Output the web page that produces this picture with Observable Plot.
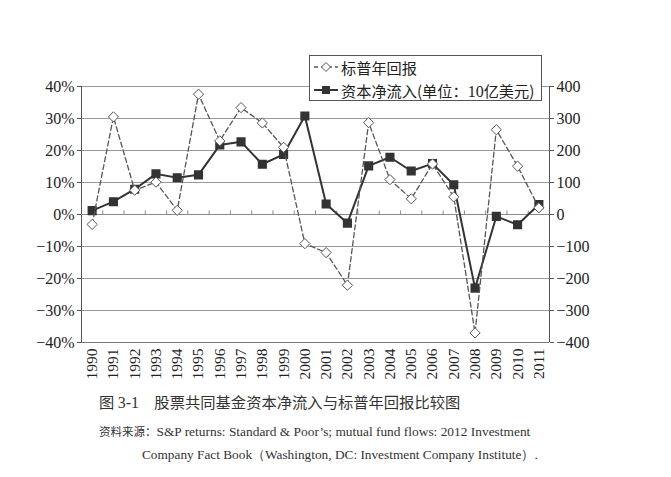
<!DOCTYPE html>
<html>
<head>
<meta charset="utf-8">
<script src="https://cdn.jsdelivr.net/npm/d3@7"></script>
<script src="https://cdn.jsdelivr.net/npm/@observablehq/plot@0.6"></script>
<style>
  body { margin:0; width:671px; height:477px; position:relative; background:#fff; overflow:hidden; }
  #chart { position:absolute; left:0; top:0; }
  #legend { position:absolute; left:309px; top:55px; width:231px; height:44px; border:1px solid #555; background:#fff;
            font-family:"Noto Sans CJK SC", sans-serif; font-size:15.2px; color:#222; }
  .row { position:absolute; left:0; height:22px; display:flex; align-items:center; white-space:nowrap; }
  .row svg { margin-left:3px; margin-right:2px; }
  .num { font-family:"Liberation Serif", serif; font-size:16px; }
  .cap { position:absolute; white-space:nowrap; color:#333; }
</style>
</head>
<body>
<div id="chart"></div>
<div id="legend">
  <div class="row" style="top:0px">
    <svg width="26" height="14"><line x1="1" y1="7" x2="25" y2="7" stroke="#555" stroke-width="1.3" stroke-dasharray="4,3"/><path d="M13,2.5 L17.5,7 L13,11.5 L8.5,7 Z" fill="#fff" stroke="#555" stroke-width="1"/></svg>
    <span id="lg1"></span>
  </div>
  <div class="row" style="top:23px">
    <svg width="26" height="14"><line x1="1" y1="7" x2="25" y2="7" stroke="#333" stroke-width="2"/><rect x="9" y="3" width="8" height="8" fill="#333"/></svg>
    <span id="lg2"></span>
  </div>
</div>
<div class="cap" id="cap1" style="left:99px; top:390px; font-family:'Noto Sans CJK SC',sans-serif; font-size:15.3px;"></div>
<div class="cap" id="cap2" style="left:99px; top:423px; font-size:13.4px;"></div>
<div class="cap" id="cap3" style="left:142px; top:446px; font-family:'Liberation Serif',serif; font-size:13.3px;"></div>
<script>
// ---- data ----
const years = [1990,1991,1992,1993,1994,1995,1996,1997,1998,1999,2000,2001,2002,2003,2004,2005,2006,2007,2008,2009,2010,2011];
const spReturns = [-3.1,30.5,7.6,10.1,1.3,37.6,23.0,33.4,28.6,21.0,-9.1,-11.9,-22.1,28.7,10.9,4.9,15.8,5.5,-37.0,26.5,15.1,2.1]; // %
const fundFlows = [12,40,79,127,115,124,217,227,157,188,308,33,-27,152,179,136,159,93,-230,-6,-32,31]; // billions USD
const leftTicks = [-40,-30,-20,-10,0,10,20,30,40];
const rightTicks = [-400,-300,-200,-100,0,100,200,300,400];
const legendLabels = ["标普年回报", "资本净流入(单位：10亿美元)"];
const captionTitle = "图 3-1\u3000股票共同基金资本净流入与标普年回报比较图";
const sourceLabel = "资料来源：";
const sourceText1 = "S&P returns: Standard & Poor’s; mutual fund flows: 2012 Investment";
const sourceText2 = "Company Fact Book（Washington, DC: Investment Company Institute）.";

const ratio = 10; // right axis units per left-axis percent
const data = years.map((y, i) => ({year: y, sp: spReturns[i], flow: fundFlows[i]}));
const minus = s => String(s).replace("-", "\u2212");

const serif = "Liberation Serif, serif";
const chart = Plot.plot({
  width: 671,
  height: 395,
  marginTop: 86,
  marginBottom: 53,
  marginLeft: 81,
  marginRight: 122,
  style: {background: "#fff", color: "#222", fontFamily: serif},
  x: {domain: [years[0] - 0.5, years[years.length - 1] + 0.5]},
  y: {domain: [-40, 40]},
  marks: [
    Plot.ruleY(leftTicks.slice(1), {stroke: "#9a9a9a", strokeWidth: 1}),
    Plot.ruleY([leftTicks[0]], {stroke: "#777", strokeWidth: 1}),
    Plot.ruleX([years[0] - 0.5, years[years.length - 1] + 0.5], {stroke: "#555", strokeWidth: 1}),
    Plot.ruleY([0], {stroke: "#8a8a8a", strokeWidth: 1}),
    Plot.ruleX(years.slice(1), {x: d => d - 0.5, y1: 0, y2: 1.1, stroke: "#888"}),
    Plot.axisY({anchor: "left", ticks: leftTicks, tickFormat: d => minus(d) + "%", tickSize: 4, tickPadding: 3,
      fontSize: 16, fontFamily: serif, stroke: "#555", label: null}),
    Plot.axisY({anchor: "right", ticks: leftTicks, tickFormat: d => minus(rightTicks[leftTicks.indexOf(d)]),
      tickSize: 4, tickPadding: 3, fontSize: 16, fontFamily: serif, stroke: "#555", label: null}),
    Plot.axisX({ticks: years, tickFormat: d => String(d), tickRotate: -90, tickSize: 0, tickPadding: 6,
      fontSize: 15.5, fontFamily: serif, label: null}),
    Plot.line(data, {x: "year", y: d => d.flow / ratio, stroke: "#333", strokeWidth: 2}),
    Plot.dot(data, {x: "year", y: d => d.flow / ratio, symbol: "square", r: 4.3, fill: "#333", stroke: "#333"}),
    Plot.line(data, {x: "year", y: "sp", stroke: "#555", strokeWidth: 1.3, strokeDasharray: "5,3"}),
    Plot.dot(data, {x: "year", y: "sp", symbol: "diamond2", r: 4.6, fill: "#fff", stroke: "#555", strokeWidth: 1})
  ]
});
document.getElementById("chart").appendChild(chart);

document.getElementById("lg1").textContent = legendLabels[0];
const lg2 = legendLabels[1];
const m = lg2.match(/^(.*?)(10)(.*)$/);
document.getElementById("lg2").append(m[1]);
const num = document.createElement("span"); num.className = "num"; num.textContent = m[2];
document.getElementById("lg2").append(num, m[3]);

const c1 = document.getElementById("cap1");
const t = captionTitle.match(/^(图 )(3-1)(.*)$/);
c1.append(t[1]);
const n1 = document.createElement("span"); n1.style.fontFamily = serif; n1.style.fontSize = "16px"; n1.textContent = t[2];
c1.append(n1, t[3]);

const c2 = document.getElementById("cap2");
const s1 = document.createElement("span"); s1.style.fontFamily = "Noto Sans CJK SC, sans-serif"; s1.style.fontSize = "11.5px"; s1.textContent = sourceLabel;
const s2 = document.createElement("span"); s2.style.fontFamily = serif; s2.textContent = sourceText1;
c2.append(s1, s2);
document.getElementById("cap3").textContent = sourceText2;
</script>
</body>
</html>
